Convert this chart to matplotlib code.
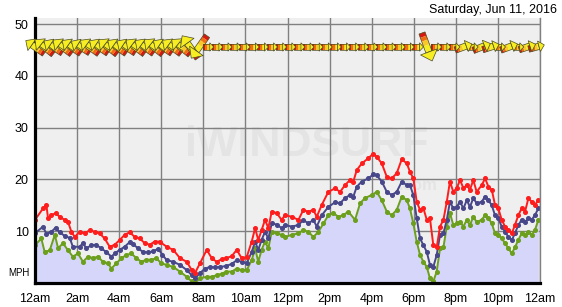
import numpy as np
import matplotlib
matplotlib.use("Agg")
import matplotlib.pyplot as plt
import matplotlib.transforms as mtransforms
from matplotlib.patches import Polygon

plt.rcParams['font.family'] = ['Liberation Sans', 'DejaVu Sans']

# wind readings (hours since midnight, mph)
avg_h = [0.0, 0.38, 0.54, 0.78, 0.98, 1.17, 1.41, 1.65, 1.8, 2.12, 2.28, 2.44, 2.68, 2.9, 3.15,
         3.38, 3.63, 3.79, 4.02, 4.26, 4.5, 4.66, 4.9, 5.13, 5.37, 5.6, 5.85, 6.05, 6.26, 6.57,
         6.89, 7.21, 7.45, 7.6, 7.84, 8.08, 8.32, 8.55, 8.79, 9.1, 9.35, 9.59, 9.82, 10.06, 10.3,
         10.46, 10.61, 10.77, 10.93, 11.09, 11.25, 11.49, 11.72, 11.88, 12.2, 12.52, 12.75, 12.99,
         13.23, 13.39, 13.63, 13.94, 14.26, 14.5, 14.73, 14.97, 15.13, 15.29, 15.53, 15.84, 16.08,
         16.24, 16.48, 16.72, 16.95, 17.19, 17.43, 17.67, 17.82, 17.98, 18.14, 18.3, 18.46, 18.62,
         18.77, 18.93, 19.09, 19.25, 19.41, 19.57, 19.72, 19.88, 20.04, 20.2, 20.36, 20.52, 20.67,
         20.83, 20.99, 21.23, 21.39, 21.55, 21.71, 21.86, 22.02, 22.18, 22.34, 22.5, 22.66, 22.81,
         22.97, 23.13, 23.29, 23.45, 23.6, 23.76, 23.92]
avg = [9.6, 10.9, 9.5, 9.9, 10.7, 9.8, 9.1, 8.7, 7.0, 7.0, 7.7, 6.7, 7.3, 7.4, 6.7,
       6.0, 5.1, 5.7, 6.4, 7.0, 7.9, 7.5, 6.7, 6.0, 5.9, 6.1, 6.6, 5.5, 4.4, 4.1,
       3.5, 2.5, 1.5, 0.9, 1.9, 2.8, 3.1, 3.0, 3.1, 3.3, 3.7, 4.4, 4.1, 3.8, 6.0,
       8.0, 6.4, 8.3, 9.9, 8.6, 11.5, 11.3, 10.6, 11.2, 10.9, 11.2, 12.2, 11.5,
       12.2, 10.9, 13.1, 14.7, 15.6, 15.4, 16.4, 17.0, 16.7, 18.6, 19.6, 20.2, 21.0,
       20.8, 19.6, 17.6, 17.0, 17.6, 19.6, 18.9, 18.9, 17.0, 12.5, 8.6, 7.3, 6.0,
       3.5, 3.1, 5.4, 9.3, 9.6, 12.2, 15.7, 14.4, 14.7, 15.7, 14.4, 16.0, 14.7,
       16.4, 15.4, 15.7, 16.7, 16.0, 15.0, 13.1, 12.5, 10.9, 9.9, 8.9, 8.3, 9.6,
       11.2, 12.2, 11.8, 12.5, 12.2, 13.1, 14.4]

gust_h = [0.0, 0.38, 0.54, 0.62, 0.78, 0.98, 1.17, 1.41, 1.57, 1.73, 1.89, 2.12, 2.36, 2.6, 2.84,
          3.07, 3.31, 3.55, 3.79, 4.02, 4.26, 4.5, 4.74, 4.98, 5.21, 5.45, 5.69, 5.92, 6.26, 6.57,
          6.89, 7.21, 7.45, 7.6, 7.84, 8.16, 8.4, 8.63, 8.87, 9.1, 9.35, 9.59, 9.82, 10.06, 10.3,
          10.46, 10.61, 10.77, 10.93, 11.09, 11.25, 11.49, 11.72, 11.88, 12.2, 12.52, 12.75, 12.99,
          13.23, 13.39, 13.63, 13.94, 14.26, 14.5, 14.73, 14.97, 15.13, 15.29, 15.53, 15.84, 16.08,
          16.24, 16.48, 16.72, 16.95, 17.19, 17.43, 17.67, 17.82, 17.98, 18.14, 18.3, 18.46, 18.62,
          18.77, 18.93, 19.09, 19.25, 19.41, 19.57, 19.72, 19.88, 20.04, 20.2, 20.36, 20.52, 20.67,
          20.83, 20.99, 21.23, 21.39, 21.55, 21.71, 21.86, 22.02, 22.18, 22.34, 22.5, 22.66, 22.81,
          22.97, 23.13, 23.29, 23.45, 23.6, 23.76, 23.92]
gust = [12.2, 14.4, 15.1, 12.5, 13.1, 13.5, 12.8, 12.2, 11.8, 9.9, 8.9, 9.9, 9.6, 10.2, 9.9,
        9.6, 8.6, 7.0, 7.4, 8.3, 9.3, 9.8, 8.9, 8.6, 7.7, 7.4, 8.0, 8.0, 7.0, 6.4,
        4.8, 4.1, 2.5, 1.9, 3.8, 6.4, 4.8, 4.1, 4.6, 4.8, 5.2, 6.4, 4.8, 5.0, 8.0,
        10.6, 8.3, 10.2, 12.2, 10.6, 13.8, 13.5, 12.2, 13.1, 12.8, 12.2, 14.1, 13.8,
        14.1, 12.8, 15.1, 17.6, 18.3, 17.6, 18.9, 19.9, 19.6, 21.8, 23.1, 24.1, 25.0,
        24.4, 23.1, 20.5, 20.2, 21.2, 23.9, 23.1, 21.5, 20.2, 15.7, 14.1, 14.4, 12.2,
        12.5, 7.3, 6.9, 10.9, 12.2, 15.7, 19.6, 17.6, 18.3, 19.9, 18.3, 18.9, 18.0,
        19.9, 17.6, 18.9, 20.2, 18.6, 18.0, 15.1, 14.4, 12.2, 10.9, 10.2, 9.6, 11.2,
        13.1, 14.4, 13.8, 16.4, 15.7, 15.1, 16.0]

lull_h = [0.0, 0.3, 0.46, 0.7, 0.94, 1.1, 1.33, 1.57, 1.8, 2.04, 2.28, 2.52, 2.76, 2.99, 3.23,
          3.47, 3.63, 3.87, 4.1, 4.34, 4.58, 4.82, 5.06, 5.29, 5.53, 5.77, 6.0, 6.26, 6.57, 6.89,
          7.21, 7.45, 7.6, 7.84, 8.16, 8.4, 8.63, 8.87, 9.1, 9.35, 9.59, 9.82, 10.06, 10.3, 10.46,
          10.61, 10.77, 10.93, 11.09, 11.25, 11.49, 11.72, 11.88, 12.2, 12.52, 12.75, 12.99, 13.23,
          13.47, 13.71, 13.94, 14.18, 14.42, 14.65, 14.89, 15.21, 15.45, 15.68, 16.0, 16.24, 16.48,
          16.72, 16.95, 17.19, 17.43, 17.67, 17.82, 17.98, 18.14, 18.3, 18.46, 18.62, 18.77, 18.93,
          19.09, 19.25, 19.41, 19.57, 19.72, 19.88, 20.04, 20.2, 20.36, 20.52, 20.67, 20.83, 20.99,
          21.23, 21.39, 21.55, 21.71, 21.86, 22.02, 22.18, 22.34, 22.5, 22.66, 22.81, 22.97, 23.13,
          23.29, 23.45, 23.6, 23.76, 23.92]
lull = [7.3, 8.6, 6.0, 6.3, 9.3, 6.7, 7.7, 6.3, 5.1, 5.7, 4.1, 5.1, 4.8, 5.1, 4.1,
        3.8, 2.8, 3.8, 4.8, 5.4, 5.7, 4.8, 4.1, 4.5, 4.5, 4.8, 3.8, 3.5, 3.1, 2.2,
        1.2, 0.3, 0.0, 0.9, 1.2, 1.2, 1.5, 1.8, 2.2, 2.2, 2.8, 2.5, 2.5, 4.4, 6.7,
        4.1, 6.4, 8.0, 6.7, 9.9, 9.6, 9.3, 8.9, 9.3, 9.6, 10.2, 9.9, 8.9,
        9.9, 11.5, 13.1, 13.5, 12.8, 13.1, 13.8, 12.2, 15.4, 16.4, 17.0, 17.6, 16.0,
        13.8, 13.1, 14.1, 16.7, 16.0, 14.4, 11.5, 8.0, 5.4, 4.1, 3.1, 0.9, 0.3,
        2.2, 6.7, 6.9, 10.9, 13.5, 11.2, 11.5, 11.8, 10.9, 12.2, 11.2, 12.8, 11.8,
        12.2, 13.1, 12.5, 11.5, 9.6, 9.3, 8.6, 7.7, 6.7, 5.7, 6.9, 8.3, 9.6,
        9.3, 9.9, 9.3, 10.2, 12.2]

# direction arrows, one every 26 minutes, angle the arrow points to (deg)
arrow_min = list(range(0, 1431, 26))
arrow_deg = [145, 142, 147, 143, 145, 148, 144, 146, 142, 145, 147, 143, 145, 142, 146, 144,
             141, 125, 235, 0, 0, 0, 0, 0, 0, 0, 0, 0, 0, 0, 0, 0, 0, 0, 0, 0, 0, 0, 0, 0,
             0, 0, 0, 290, 0, 0, 0, 20, 0, 22, 18, 0, 20, 0, 18, 15]

hour_ticks = [0, 2, 4, 6, 8, 10, 12, 14, 16, 18, 20, 22, 24]
hour_labels = ['12am', '2am', '4am', '6am', '8am', '10am', '12pm', '2pm', '4pm',
               '6pm', '8pm', '10pm', '12am']

fig = plt.figure(figsize=(5.62, 3.07), dpi=100)
ax = fig.add_axes([35/562, 24/307, 505/562, 265/307])
ax.set_facecolor('#efefef')
ax.set_xlim(0, 24)
ax.set_ylim(0, 51.2)

ax.set_axisbelow(True)
ax.grid(color='#808080', lw=1)
ax.set_xticks(hour_ticks)
ax.set_xticklabels(hour_labels)
ax.set_yticks([10, 20, 30, 40, 50])
ax.tick_params(length=0, labelsize=9, pad=4.5)
ax.tick_params(axis='x', pad=7)
ax.spines['top'].set_visible(False)
ax.spines['right'].set_color('#808080')
ax.spines['right'].set_linewidth(1)
ax.spines['left'].set_linewidth(2.3)
ax.spines['bottom'].set_linewidth(2.3)

# watermark
ax.text(12.9, 26.6, 'iWINDSURF', fontsize=31, fontweight='bold', color='#e4e4e4',
        ha='center', va='center', zorder=0.2)
ax.text(18.2, 18.9, '.com', fontsize=12, fontweight='bold', color='#e4e4e4',
        ha='center', va='center', zorder=0.2)

ax.fill_between(lull_h, lull, 0, color='#d6d6fa', lw=0, zorder=1.5)
ax.plot(lull_h, lull, color='#6b9f1c', lw=1.4, marker='o', ms=2.6, zorder=2)
ax.plot(avg_h, avg, color='#47478a', lw=1.4, marker='o', ms=2.6, zorder=2.1)
ax.plot(gust_h, gust, color='#ff1c1c', lw=1.4, marker='o', ms=2.6, zorder=2.2)


def draw_arrow(t, deg, yv=45.6):
    a = np.deg2rad(deg)
    s = abs(np.sin(a))
    L = 11 + 20 * s
    bw, hw, hl = 3.2, 4.2 + 5 * s, 4 + 6 * s
    u0, u1, u2 = -L / 2, L / 2 - hl, L / 2
    trans = fig.dpi_scale_trans + mtransforms.ScaledTranslation(t, yv, ax.transData)

    def rot(pts):
        pts = np.array(pts, dtype=float)
        x = pts[:, 0] * np.cos(a) - pts[:, 1] * np.sin(a)
        y = pts[:, 0] * np.sin(a) + pts[:, 1] * np.cos(a)
        return np.column_stack([x, y]) / fig.dpi

    cols = ['#d81810', '#f26c10', '#f8c828', '#f6ee22']
    fr = [0, 0.2, 0.4, 0.65, 1.0] if s > 0.3 else [0, 0.3, 0.6, 0.85, 1.0]
    edges = [u0 + f * (u1 - u0) for f in fr]
    for i in range(4):
        p = Polygon(rot([(edges[i], -bw), (edges[i+1], -bw), (edges[i+1], bw), (edges[i], bw)]),
                    closed=True, fc=cols[i], ec='none', transform=trans, clip_on=False, zorder=3)
        ax.add_patch(p)
    outline = Polygon(rot([(u0, -bw), (u1, -bw), (u1, bw), (u0, bw)]), closed=True, fill=False,
                      ec='#4a4a20', lw=0.5, transform=trans, clip_on=False, zorder=3.1)
    ax.add_patch(outline)
    head = Polygon(rot([(u1, -hw), (u2, 0), (u1, hw)]), closed=True, fc='#f6ee22',
                   ec='#4a4a20', lw=0.5, transform=trans, clip_on=False, zorder=3.2)
    ax.add_patch(head)


for m, d in zip(arrow_min, arrow_deg):
    draw_arrow(m / 60.0, d)

fig.text(557/562, 1 - 10/307, 'Saturday, Jun 11, 2016', ha='right', va='center', fontsize=9)
fig.text(18.5/562, 1 - 273/307, 'MPH', ha='center', va='center', fontsize=7)

fig.savefig('out.png', dpi=100)
